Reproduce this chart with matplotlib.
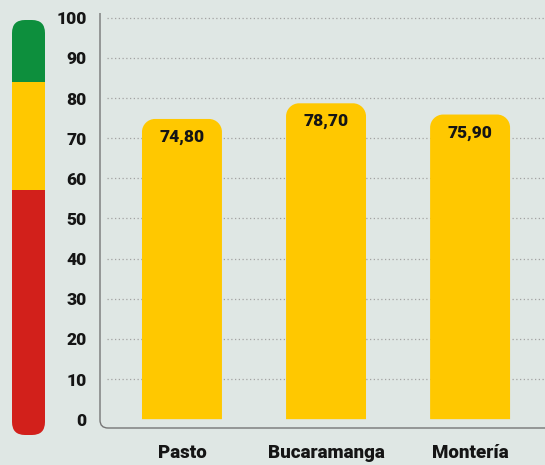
import matplotlib
matplotlib.use("Agg")
import matplotlib.pyplot as plt
from matplotlib.path import Path
from matplotlib.patches import PathPatch, Rectangle, FancyBboxPatch

# Data
cities = ["Pasto", "Bucaramanga", "Montería"]
scores = [74.80, 78.70, 75.90]
y_ticks = [0, 10, 20, 30, 40, 50, 60, 70, 80, 90, 100]
# Traffic-light scale bands (lower, upper)
band_limits = [(0, 59), (59, 85), (85, 100)]

BG = "#dfe7e4"
YELLOW = "#ffc800"
GREEN = "#0d8f3d"
RED = "#d2201b"
TEXT = "#151515"
AXIS = "#767676"
GRID = "#a2a2a2"
band_colors = [RED, YELLOW, GREEN]

plt.rcParams["font.family"] = ["Roboto", "DejaVu Sans"]

W, H = 545, 465
fig = plt.figure(figsize=(W / 100, H / 100), dpi=100, facecolor=BG)

# ---- main bar chart ----
ax_l, ax_r, ax_t, ax_b = 100, 545, 13, 428
ax = fig.add_axes([ax_l / W, 1 - ax_b / H, (ax_r - ax_l) / W, (ax_b - ax_t) / H])
ax.set_facecolor(BG)
ymin, ymax = -2.2, 101.2
ax.set_ylim(ymin, ymax)
ax.set_xlim(-0.569, 2.52)
for s in ax.spines.values():
    s.set_visible(False)

px_per_x = (ax_r - ax_l) / (2.52 + 0.569)
px_per_y = (ax_b - ax_t) / (ymax - ymin)

# dotted gridlines
x0 = ax.get_xlim()[0] + 7 / px_per_x
for t in y_ticks[1:]:
    ax.plot([x0, ax.get_xlim()[1]], [t, t], color=GRID, lw=0.9,
            linestyle=(0, (1, 2.0)), zorder=1, clip_on=False)

# bars with rounded top corners
bar_w = 0.555
r_px = 13
rx, ry = r_px / px_per_x, r_px / px_per_y
for i, v in enumerate(scores):
    xl, xr = i - bar_w / 2, i + bar_w / 2
    k = 0.45
    verts = [(xl, 0), (xl, v - ry),
             (xl, v - ry * k), (xl + rx * k, v), (xl + rx, v),
             (xr - rx, v),
             (xr - rx * k, v), (xr, v - ry * k), (xr, v - ry),
             (xr, 0), (xl, 0)]
    codes = [Path.MOVETO, Path.LINETO,
             Path.CURVE4, Path.CURVE4, Path.CURVE4,
             Path.LINETO,
             Path.CURVE4, Path.CURVE4, Path.CURVE4,
             Path.LINETO, Path.CLOSEPOLY]
    ax.add_patch(PathPatch(Path(verts, codes), facecolor=YELLOW,
                           edgecolor="none", zorder=2))
    ax.annotate(f"{v:.2f}".replace(".", ","), (i, v), xytext=(0, -13),
                textcoords="offset points", ha="center", va="center",
                fontsize=12.5, fontweight="black", color=TEXT, zorder=3)

ax.set_yticks(y_ticks)
ax.set_yticklabels([str(t) for t in y_ticks], fontsize=12.5,
                   fontweight="black", color=TEXT)
ax.set_xticks(range(len(cities)))
ax.set_xticklabels(cities, fontsize=13.5, fontweight="black", color=TEXT)
ax.tick_params(axis="y", length=0, pad=9.5)
ax.tick_params(axis="x", length=0, pad=11.5)

# L-shaped axis line with a rounded corner
cr = 8
cx, cy = cr / (ax_r - ax_l), cr / (ax_b - ax_t)
axis_path = Path([(0, 1), (0, cy), (0, 0), (cx, 0), (1, 0)],
                 [Path.MOVETO, Path.LINETO, Path.CURVE3, Path.CURVE3, Path.LINETO])
ax.add_patch(PathPatch(axis_path, transform=ax.transAxes, facecolor="none",
                       edgecolor=AXIS, lw=1.0, clip_on=False, zorder=4))

# ---- traffic-light scale ----
sl, sr, st, sb = 12, 45, 20, 435
sax = fig.add_axes([sl / W, 1 - sb / H, (sr - sl) / W, (sb - st) / H])
sax.set_xlim(0, 1)
sax.set_ylim(0, 100)
sax.axis("off")
rr = 13
clip = FancyBboxPatch((0, 0), 1, 100,
                      boxstyle=f"round,pad=0,rounding_size={rr / (sr - sl)}",
                      mutation_aspect=(100 / (sb - st)) / (1 / (sr - sl)),
                      transform=sax.transData, facecolor="none", edgecolor="none")
sax.add_patch(clip)
for (lo, hi), c in zip(band_limits, band_colors):
    rect = Rectangle((0, lo), 1, hi - lo, facecolor=c, edgecolor="none")
    sax.add_patch(rect)
    rect.set_clip_path(clip)

fig.savefig("out.png", dpi=100, facecolor=BG)
